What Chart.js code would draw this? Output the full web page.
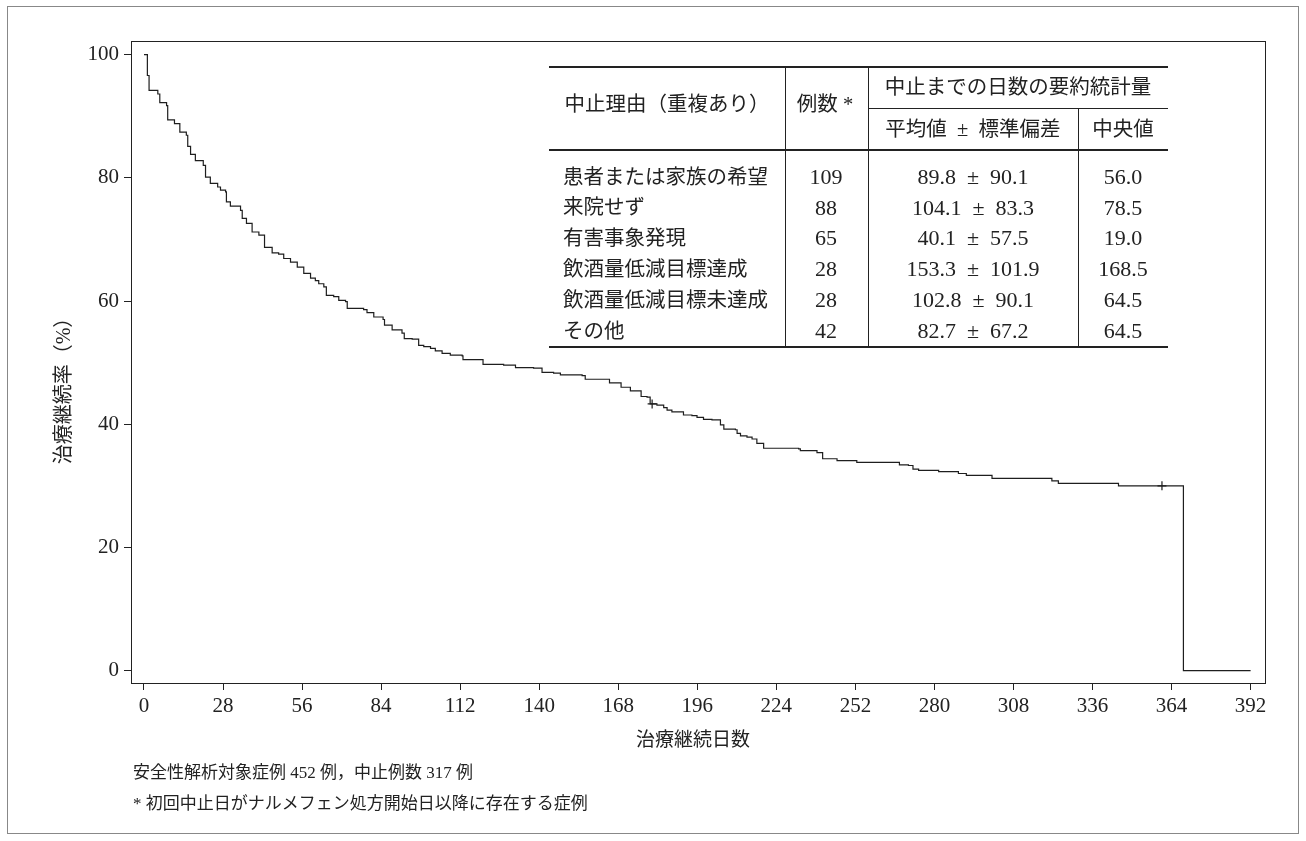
<!DOCTYPE html>
<html><head><meta charset="utf-8">
<script src="https://cdn.jsdelivr.net/npm/chart.js@4.4.1/dist/chart.umd.min.js"></script>
<style>
html,body{margin:0;padding:0;background:#fff;}
#wrap{position:relative;width:1306px;height:841px;overflow:hidden;background:#fff;}
canvas{position:absolute;left:0;top:0;}
.t{position:absolute;white-space:nowrap;color:#222;font-family:"Liberation Serif","Noto Sans CJK JP",serif;}
.ln{position:absolute;background:#222;}
#frame{position:absolute;left:7px;top:6px;width:1290px;height:826px;border:1.5px solid #888;}
</style></head><body>
<div id="wrap"><div id="frame"></div><canvas id="c" width="1306" height="841"></canvas></div>
<script>
// Kaplan-Meier: day of each step and survival (%) after the step
const days = [0,1.2,1.8,4.9,5.6,8.0,8.4,10.8,12.7,15.0,15.5,16.5,18.2,21.0,21.8,23.5,26.1,27.1,28.9,29.2,30.6,34.2,34.8,36.3,38.3,40.7,42.7,45.4,47.7,49.5,51.9,54.3,56.6,59.0,60.7,61.9,63.7,64.6,67.2,69.0,71.4,72.0,77.8,79.0,81.4,84.7,85.2,87.9,91.4,92.2,95.0,97.3,99.1,101.5,103.2,105.6,108.5,112.7,113.0,120.1,127.4,131.6,138.0,141.0,145.1,147.5,155.2,156.3,164.9,169.0,172.3,176.1,178.2,179.3,181.7,184.1,185.3,187.0,191.1,194.1,195.9,198.2,201.2,204.2,205.4,209.5,210.1,211.3,213.6,215.4,217.1,219.5,231.9,232.5,238.4,240.4,245.5,252.5,267.6,270.8,272.4,274.4,281.5,288.5,291.3,300.4,321.6,323.9,345.2,368.2,392];
const survival = [100,96.6,94.2,93.6,92.2,91.7,89.4,88.8,87.4,86.9,85.1,83.8,82.8,82.0,80.1,79.1,78.5,78.0,77.7,76.1,75.4,74.7,73.4,72.6,71.2,70.7,68.7,67.8,67.6,66.9,66.3,65.5,64.5,63.7,63.3,62.8,62.3,60.9,60.7,60.1,59.9,58.8,58.6,58.1,57.4,57.0,56.1,55.3,54.8,53.9,53.8,52.8,52.6,52.3,51.9,51.5,51.2,51.1,50.5,49.7,49.6,49.2,49.1,48.4,48.3,48.0,47.9,47.3,46.7,46.0,45.4,44.5,44.4,43.3,43.1,42.7,42.3,42.0,41.5,41.4,41.1,40.8,40.7,39.9,39.2,39.1,38.5,38.1,37.9,37.6,36.9,36.1,36.0,35.7,35.4,34.4,34.1,33.8,33.4,33.3,32.7,32.5,32.3,32.0,31.7,31.2,30.8,30.4,30.0,0,0];
const censorDays = [180.0, 360.6];
const censorValues = [43.3, 30.0];
const xTicks = [0,28,56,84,112,140,168,196,224,252,280,308,336,364,392];
const yTicks = [0,20,40,60,80,100];
const xTitle = "治療継続日数";
const yTitle = "治療継続率（%）";
const footnotes = ["安全性解析対象症例 452 例，中止例数 317 例", "* 初回中止日がナルメフェン処方開始日以降に存在する症例"];
// summary table
const headReason = "中止理由（重複あり）";
const headCount = "例数 *";
const headGroup = "中止までの日数の要約統計量";
const headMean = "平均値\u2002±\u2002標準偏差";
const headMedian = "中央値";
const reasons = ["患者または家族の希望","来院せず","有害事象発現","飲酒量低減目標達成","飲酒量低減目標未達成","その他"];
const counts = [109,88,65,28,28,42];
const means = [89.8,104.1,40.1,153.3,102.8,82.7];
const sds = [90.1,83.3,57.5,101.9,90.1,67.2];
const medians = [56.0,78.5,19.0,168.5,64.5,64.5];

const SERIF = '"Liberation Serif", "Noto Sans CJK JP", serif';

const framePlugin = {
  id: 'frameBox',
  afterDraw(chart) {
    const a = chart.chartArea, ctx = chart.ctx;
    ctx.save();
    ctx.strokeStyle = '#222';
    ctx.lineWidth = 1;
    ctx.strokeRect(Math.round(a.left) + 0.5, Math.round(a.top) + 0.5, Math.round(a.right - a.left), Math.round(a.bottom - a.top));
    ctx.restore();
  }
};

new Chart(document.getElementById('c'), {
  type: 'line',
  data: {
    datasets: [
      {
        data: days.map((d, i) => ({x: d, y: survival[i]})),
        stepped: true,
        borderColor: '#1e1e1e',
        borderWidth: 1.2,
        pointRadius: 0,
        fill: false
      },
      {
        data: censorDays.map((d, i) => ({x: d, y: censorValues[i]})),
        showLine: false,
        pointStyle: 'cross',
        pointRadius: 4.5,
        borderColor: '#1e1e1e',
        borderWidth: 1.2
      }
    ]
  },
  options: {
    responsive: false,
    animation: false,
    devicePixelRatio: 1,
    layout: {padding: {left: 0, right: 41, top: 41, bottom: 118}},
    plugins: {legend: {display: false}, tooltip: {enabled: false}},
    scales: {
      x: {
        type: 'linear', min: -4.6, max: 397.1,
        afterBuildTicks: s => { s.ticks = xTicks.map(v => ({value: v})); },
        afterFit: s => { s.height = 40; },
        grid: {drawOnChartArea: false, drawTicks: true, tickLength: 7, color: '#222', lineWidth: 1},
        border: {display: true, color: '#222', width: 1},
        ticks: {font: {family: SERIF, size: 21}, color: '#222', padding: 4, maxRotation: 0, autoSkip: false}
      },
      y: {
        type: 'linear', min: -2, max: 102.2,
        afterBuildTicks: s => { s.ticks = yTicks.map(v => ({value: v})); },
        afterFit: s => { s.width = 131; },
        grid: {drawOnChartArea: false, drawTicks: true, tickLength: 7, color: '#222', lineWidth: 1},
        border: {display: true, color: '#222', width: 1},
        ticks: {font: {family: SERIF, size: 21}, color: '#222', padding: 5, autoSkip: false}
      }
    }
  },
  plugins: [framePlugin]
});

// ---- HTML text overlays ----
const wrap = document.getElementById('wrap');
function txt(s, x, cy, size, align) {
  const d = document.createElement('div');
  d.className = 't';
  d.textContent = s;
  d.style.fontSize = size + 'px';
  d.style.lineHeight = (size * 1.3) + 'px';
  d.style.top = (cy - size * 0.65) + 'px';
  if (align === 'center') { d.style.left = (x - 250) + 'px'; d.style.width = '500px'; d.style.textAlign = 'center'; }
  else { d.style.left = x + 'px'; }
  wrap.appendChild(d);
  return d;
}
function line(x, y, w, h) {
  const d = document.createElement('div');
  d.className = 'ln';
  d.style.left = x + 'px'; d.style.top = y + 'px'; d.style.width = w + 'px'; d.style.height = h + 'px';
  wrap.appendChild(d);
}
// axis titles
txt(xTitle, 693, 740, 19, 'center');
const yt = txt(yTitle, 63, 386, 20, 'center');
yt.style.transform = 'rotate(-90deg)';
// footnotes
txt(footnotes[0], 133, 773, 17, 'left');
txt(footnotes[1], 133, 804, 17, 'left');

// table
const TL = 549, TR = 1168;
line(TL, 66, TR - TL, 2);
line(868, 107.5, TR - 868, 1);
line(TL, 149, TR - TL, 1.5);
line(TL, 346, TR - TL, 2);
line(785, 68, 1, 278);
line(868, 68, 1, 278);
line(1078, 108, 1, 238);
txt(headReason, 667, 104, 20.5, 'center');
txt(headCount, 825, 104, 20.5, 'center');
txt(headGroup, 1018, 87, 20.5, 'center');
txt(headMean, 973, 129, 20.5, 'center');
txt(headMedian, 1123, 129, 20.5, 'center');
reasons.forEach((r, i) => {
  const cy = 177 + i * 30.8;
  txt(r, 563, cy, 20.5, 'left');
  txt(String(counts[i]), 826, cy, 22, 'center');
  txt(means[i].toFixed(1) + '\u2002±\u2002' + sds[i].toFixed(1), 973, cy, 22, 'center');
  txt(medians[i].toFixed(1), 1123, cy, 22, 'center');
});
</script>
</body></html>
